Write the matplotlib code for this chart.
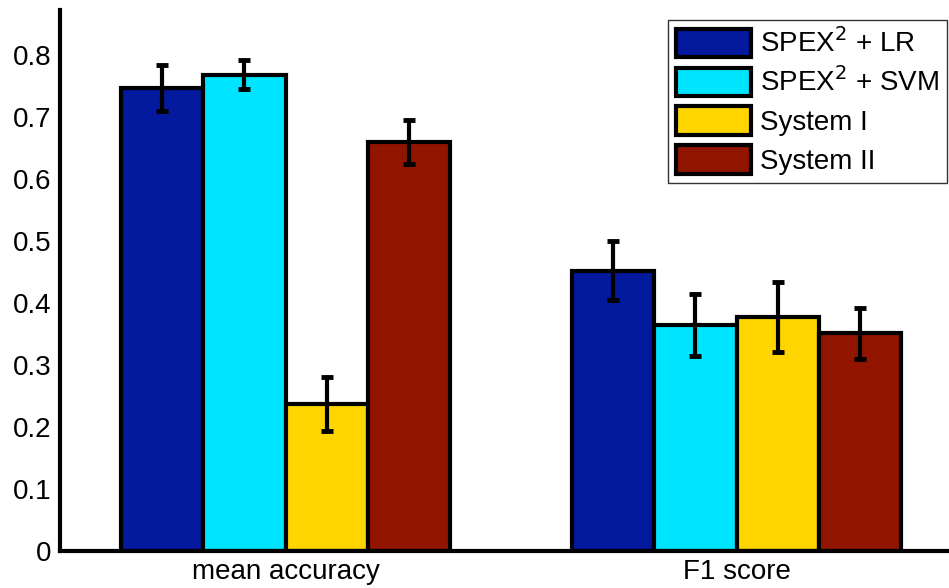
import matplotlib
matplotlib.use("Agg")
import matplotlib.pyplot as plt
import numpy as np

plt.rcParams['font.family'] = ['Liberation Sans', 'DejaVu Sans']

categories = ["mean accuracy", "F1 score"]
series = ["SPEX$^2$ + LR", "SPEX$^2$ + SVM", "System I", "System II"]
values = {
    "SPEX$^2$ + LR":  [0.746, 0.452],
    "SPEX$^2$ + SVM": [0.768, 0.364],
    "System I":       [0.237, 0.377],
    "System II":      [0.659, 0.351],
}
errors = {
    "SPEX$^2$ + LR":  [0.037, 0.048],
    "SPEX$^2$ + SVM": [0.024, 0.050],
    "System I":       [0.044, 0.056],
    "System II":      [0.035, 0.041],
}
colors = ["#03199E", "#00E5FF", "#FFD500", "#921500"]
yticks = [0, 0.1, 0.2, 0.3, 0.4, 0.5, 0.6, 0.7, 0.8]

fig = plt.figure(figsize=(9.49, 5.88), dpi=100)
ax = fig.add_axes([60/949, 37/588, 902/949, 541/588])

x = np.arange(1, len(categories) + 1)
width = 0.182
n = len(series)
for i, (s, c) in enumerate(zip(series, colors)):
    off = (i - (n - 1) / 2) * width
    ax.bar(x + off, values[s], width, color=c, edgecolor="black",
           linewidth=3, label=s, zorder=2)
    ax.errorbar(x + off, values[s], yerr=errors[s], fmt="none",
                ecolor="black", elinewidth=3, capsize=4, capthick=3.5,
                zorder=3)

ax.set_xlim(0.5, 2.5)
ax.set_ylim(0, 0.872)
ax.set_xticks(x)
ax.set_xticklabels(categories)
ax.set_yticks(yticks)
ax.set_yticklabels([f"{t:g}" for t in yticks])
ax.tick_params(length=0, labelsize=20)
ax.tick_params(axis="y", pad=6)
ax.tick_params(axis="x", pad=6)
for side in ["top", "right"]:
    ax.spines[side].set_visible(False)
for side in ["left", "bottom"]:
    ax.spines[side].set_linewidth(3)

leg = fig.legend(loc="upper left", bbox_to_anchor=(668/949, 1 - 20/588),
                 fontsize=20, frameon=True, fancybox=False,
                 handlelength=2.7, handleheight=1.2, labelspacing=0.33,
                 handletextpad=0.3, borderpad=0.3, borderaxespad=0)
leg.get_frame().set_edgecolor("black")
leg.get_frame().set_linewidth(1)

fig.savefig("out.png", dpi=100)
